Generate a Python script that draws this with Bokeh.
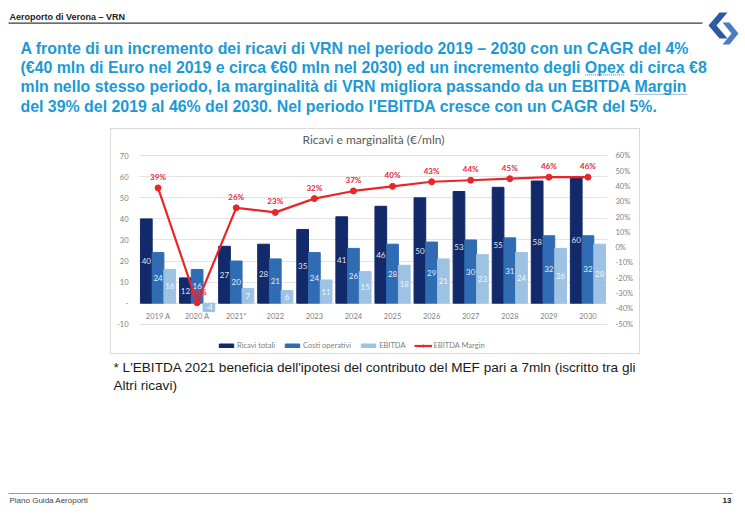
from bokeh.plotting import figure
from bokeh.layouts import column, row
from bokeh.models import (Range1d, LinearAxis, FixedTicker, NumeralTickFormatter,
                          Legend, LegendItem, ColumnDataSource, Spacer, Label)
from bokeh.core.properties import value
from bokeh.transform import dodge
from bokeh.embed import file_html
from bokeh.resources import INLINE

# ---------------- data ----------------
categories = ["2019 A", "2020 A", "2021*", "2022", "2023", "2024", "2025", "2026",
              "2027", "2028", "2029", "2030"]
ricavi_totali = [40, 12, 27, 28, 35, 41, 46, 50, 53, 55, 58, 60]
costi_operativi = [24, 16, 20, 21, 24, 26, 28, 29, 30, 31, 32, 32]
ebitda = [16, -4, 7, 6, 11, 15, 18, 21, 23, 24, 26, 28]
ebitda_margin = [39, -36, 26, 23, 32, 37, 40, 43, 44, 45, 46, 46]  # percent
left_ticks = [-10, 0, 10, 20, 30, 40, 50, 60, 70]
right_ticks = [-50, -40, -30, -20, -10, 0, 10, 20, 30, 40, 50, 60]  # percent
series_names = ["Ricavi totali", "Costi operativi", "EBITDA", "EBITDA Margin"]

chart_title = "Ricavi e marginalità (€/mln)"
header = "Aeroporto di Verona – VRN"
paragraph = [
    "A fronte di un incremento dei ricavi di VRN nel periodo 2019 – 2030 con un CAGR del 4%",
    "(€40 mln di Euro nel 2019 e circa €60 mln nel 2030) ed un incremento degli Opex di circa €8",
    "mln nello stesso periodo, la marginalità di VRN migliora passando da un EBITDA Margin",
    "del 39% del 2019 al 46% del 2030. Nel periodo l'EBITDA cresce con un CAGR del 5%.",
]
underlined = [(1, "Opex"), (2, "Margin")]
footnote = [
    "* L'EBITDA 2021 beneficia dell'ipotesi del contributo del MEF pari a 7mln (iscritto tra gli",
    "Altri ricavi)",
]
footer_left = "Piano Guida Aeroporti"
footer_right = "13"

# ---------------- styling ----------------
W, H = 745, 515
BOX_L, BOX_R = 110, 640          # chart box (page px, outer incl. 1px border)
BOX_T, BOX_B = 128, 354
FL, FR = 138, 605                # chart frame left/right (page px)
AX_T, AX_B = 155, 322            # page y of the top / bottom ticks
FT, FB = BOX_T + 1, BOX_B - 1    # frame spans the whole inner box height

C_RIC = "#132a6a"
C_COS = "#2f6cb3"
C_EBI = "#9dc2e4"
C_MAR = "#e8262a"
C_TXT = "#1b9ad6"
C_AX = "#808080"
FONT = "Liberation Sans"
CFONT = "Lato"
PARA_SIZE = 15.9

# Arial/Liberation Sans Bold advance widths (1/1000 em), used for underline placement
_AW = {" ": 278, "(": 333, ")": 333, "€": 556, ",": 278, ".": 278, "'": 238, "%": 889,
       "–": 556, "à": 556}
_AW.update({c: 556 for c in "0123456789"})
_AW.update(dict(zip("abcdefghijklmnopqrstuvwxyz",
                    [556, 611, 556, 611, 556, 333, 611, 611, 278, 278, 556, 278, 889, 611,
                     611, 611, 611, 389, 556, 333, 611, 556, 778, 556, 556, 500])))
_AW.update(dict(zip("ABCDEFGHIJKLMNOPQRSTUVWXYZ",
                    [722, 722, 722, 722, 667, 611, 778, 722, 278, 556, 722, 611, 833, 722,
                     778, 667, 778, 722, 667, 611, 722, 667, 944, 667, 667, 611])))


def tw(s, size):
    return sum(_AW.get(c, 556) for c in s) * size / 1000.0


def page_fig(w, h, y0, y1):
    f = figure(width=w, height=h, x_range=Range1d(0, w), y_range=Range1d(y1, y0),
               x_axis_type=None, y_axis_type=None, output_backend="svg",
               toolbar_location=None, min_border=0)
    f.outline_line_color = None
    f.grid.visible = False
    f.background_fill_color = "white"
    f.border_fill_color = "white"
    return f


def put(f, texts, xs, ys, size, color, style="normal", align="left", font=FONT):
    f.text(x=xs, y=ys, text=texts, text_font=value(font), text_font_size=size,
           text_color=color, text_font_style=style, text_align=align, text_baseline="middle")


# ---------------- top band ----------------
top = page_fig(W, BOX_T, 0, BOX_T)
put(top, [header], [9], [16], "9px", "#222222", style="bold")
top.quad(left=[8], right=[702], top=[22], bottom=[23.3], fill_color="#3a3a3a", line_color=None)
top.patch([719, 727, 716, 727, 719, 708], [12, 12, 25, 38, 38, 25], fill_color="#2b5aa3",
          line_color=None)
top.patch([722, 729, 738, 729, 722, 731], [22, 22, 33, 44, 44, 33], fill_color="#4a7cc4",
          line_color=None)
para_x = 20
para_y = [47.5 + i * 19.4 for i in range(len(paragraph))]
put(top, paragraph, [para_x] * len(paragraph), para_y, f"{PARA_SIZE}px", C_TXT, style="bold")
for li, word in underlined:
    line = paragraph[li]
    x0 = para_x + tw(line[:line.index(word)], PARA_SIZE)
    x1 = x0 + tw(word, PARA_SIZE)
    yu = para_y[li] + 7.5
    top.segment(x0=[x0], x1=[x1], y0=[yu], y1=[yu], line_color="#2a78c0", line_width=1,
                line_dash="1 1")

# ---------------- chart ----------------
src = ColumnDataSource(dict(
    cat=categories,
    ric=ricavi_totali, cos=costi_operativi, ebi=ebitda,
    ric_mid=[v / 2 for v in ricavi_totali],
    cos_mid=[v / 2 for v in costi_operativi],
    ebi_mid=[v / 2 for v in ebitda],
    ric_t=[str(v) for v in ricavi_totali],
    cos_t=[str(v) for v in costi_operativi],
    ebi_t=[str(v) for v in ebitda],
    mar=[v / 100 for v in ebitda_margin],
    mar_t=[f"{v}%" for v in ebitda_margin],
))

# value ranges extended beyond the outer ticks so title and legend fit inside the frame
e_top = (AX_T - FT) / (AX_B - AX_T)
e_bot = (FB - AX_B) / (AX_B - AX_T)
l_span = left_ticks[-1] - left_ticks[0]
r_span = (right_ticks[-1] - right_ticks[0]) / 100
l_range = Range1d(left_ticks[0] - e_bot * l_span, left_ticks[-1] + e_top * l_span)
r_range = Range1d(right_ticks[0] / 100 - e_bot * r_span, right_ticks[-1] / 100 + e_top * r_span)

cw = BOX_R - BOX_L
chh = BOX_B - BOX_T
p = figure(width=cw, height=chh, x_range=categories, y_range=l_range,
           output_backend="svg", toolbar_location=None,
           min_border_left=FL - BOX_L - 1, min_border_right=BOX_R - 1 - FR,
           min_border_top=0, min_border_bottom=0,
           styles={"border": "1px solid #d9d9d9"})
p.outline_line_color = None
p.background_fill_color = "white"
p.border_fill_color = "white"
p.extra_y_ranges = {"pct": r_range}

p.xgrid.grid_line_color = None
p.ygrid.ticker = FixedTicker(ticks=left_ticks)
p.ygrid.grid_line_color = "#e3e3e3"


def style_axis(a, standoff):
    a.axis_line_color = None
    a.major_tick_line_color = None
    a.minor_tick_line_color = None
    a.major_tick_out = 0
    a.major_tick_in = 0
    a.major_label_standoff = standoff
    a.major_label_text_font_size = "7.5px"
    a.major_label_text_color = C_AX
    a.major_label_text_font = CFONT


ya = p.yaxis[0]
ya.ticker = FixedTicker(ticks=left_ticks)
ya.major_label_overrides = {0: "-", -10: "-10"}
style_axis(ya, 10)

ra = LinearAxis(y_range_name="pct", ticker=FixedTicker(ticks=[t / 100 for t in right_ticks]),
                formatter=NumeralTickFormatter(format="0%"))
style_axis(ra, 8)
p.add_layout(ra, "right")

xa = p.xaxis[0]
style_axis(xa, -(FB - AX_B) - 13)

bw = 0.3
r1 = p.vbar(x=dodge("cat", -bw, range=p.x_range), top="ric", width=bw, fill_color=C_RIC,
            line_color=C_RIC, source=src)
r2 = p.vbar(x=dodge("cat", 0, range=p.x_range), top="cos", width=bw, fill_color=C_COS,
            line_color=C_COS, source=src)
r3 = p.vbar(x=dodge("cat", bw, range=p.x_range), top="ebi", width=bw, fill_color=C_EBI,
            line_color=C_EBI, source=src)

for off, y, t in [(-bw, "ric_mid", "ric_t"), (0, "cos_mid", "cos_t"), (bw, "ebi_mid", "ebi_t")]:
    p.text(x=dodge("cat", off, range=p.x_range), y=y, text=t, source=src,
           text_color="white", text_font_size="8px", text_align="center",
           text_baseline="middle", text_font=value(CFONT), text_alpha=0.9)

rl = p.line(x="cat", y="mar", y_range_name="pct", source=src, line_color=C_MAR, line_width=2.2)
rs = p.scatter(x="cat", y="mar", y_range_name="pct", source=src, marker="circle", size=6,
               fill_color=C_MAR, line_color=C_MAR)
p.text(x="cat", y="mar", y_range_name="pct", source=src, text="mar_t", y_offset=-11,
       text_color="#e5283c", text_font_size="8px", text_align="center", text_baseline="middle",
       text_font=value(CFONT), text_font_style="bold")

# chart title (inside the frame's top strip)
p.add_layout(Label(x=(373 - FL), y=(FB - 137), x_units="screen", y_units="screen",
                   text=chart_title, text_font=CFONT, text_font_size="12px",
                   text_color="#595959", text_align="center", text_baseline="middle"))

legend = Legend(items=[LegendItem(label=series_names[0], renderers=[r1]),
                       LegendItem(label=series_names[1], renderers=[r2]),
                       LegendItem(label=series_names[2], renderers=[r3]),
                       LegendItem(label=series_names[3], renderers=[rl, rs])],
                orientation="horizontal", location=(217 - FL, FB - 348),
                border_line_color=None, background_fill_alpha=0,
                glyph_width=18, glyph_height=5, label_height=10, label_standoff=2,
                spacing=8, padding=0, margin=0,
                label_text_font_size="7.5px", label_text_color=C_AX, label_text_font=CFONT)
p.add_layout(legend)

chart_row = row(Spacer(width=BOX_L, height=chh), p, Spacer(width=W - BOX_R, height=chh))

# ---------------- bottom band ----------------
bot = page_fig(W, H - BOX_B, BOX_B, H)
put(bot, footnote, [113, 113], [367, 385], "13.6px", "#1a1a1a")
bot.quad(left=[8], right=[732], top=[492.5], bottom=[493.5], fill_color="#9a9a9a",
         line_color=None)
put(bot, [footer_left], [9], [500], "8px", "#444444")
put(bot, [footer_right], [731], [500], "8px", "#222222", style="bold", align="right")

layout = column(top, chart_row, bot)
open("out.html", "w").write(file_html(layout, INLINE))
